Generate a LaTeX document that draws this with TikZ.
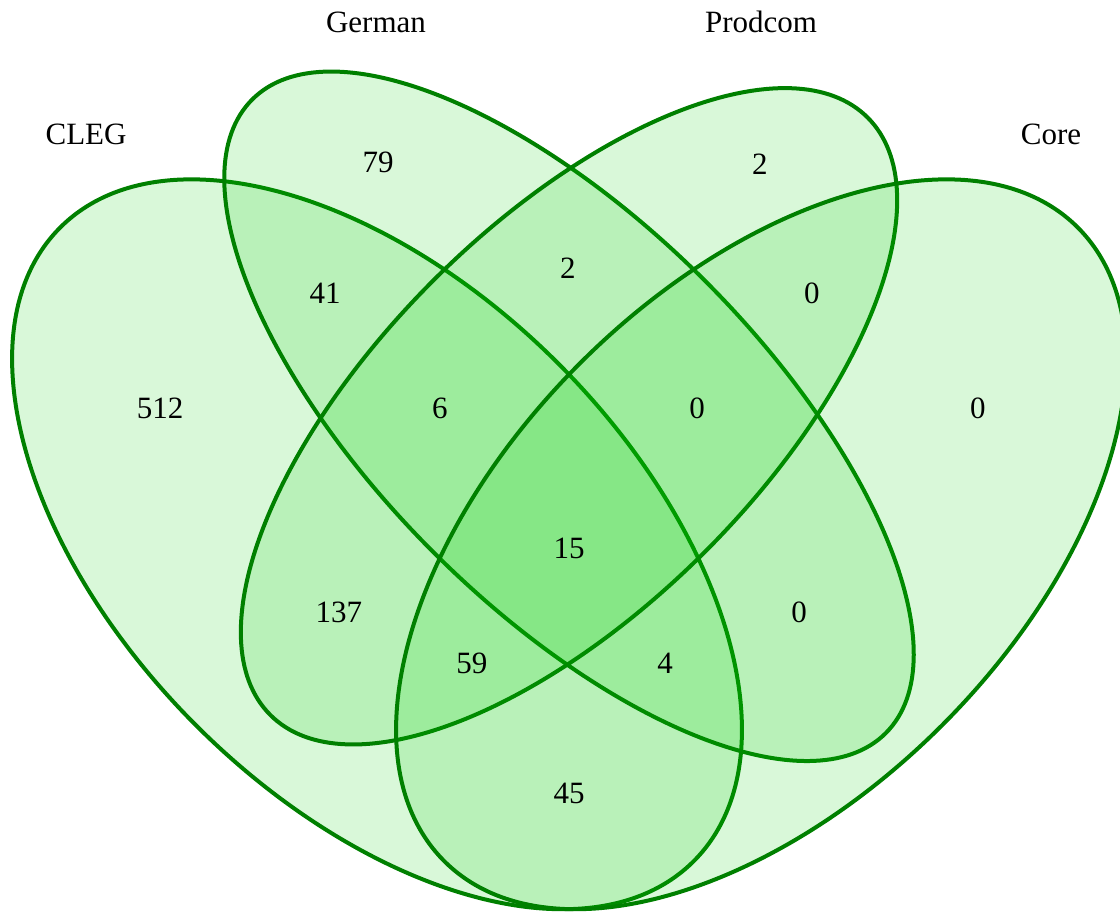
\documentclass[tikz,border=0pt]{standalone}
\usepackage{fontspec}
\setmainfont{Liberation Serif}
\usepackage{tikz}
\definecolor{vennFill}{RGB}{0,205,0}
\definecolor{vennLine}{RGB}{0,128,0}
\newcommand{\vennUnit}{640pt}
\newcommand{\vennFont}{\fontsize{15.5}{18}\selectfont}

\begin{document}
\begin{tikzpicture}[x=\vennUnit, y=\vennUnit,
		set/.style={draw=vennLine, line width=2pt, fill=vennFill, fill opacity=0.15},
		every node/.style={font=\vennFont}]
	\useasboundingbox (0.05547,0.18119) rectangle (0.93047,0.89525);
	%sets
	\draw[set, rotate around={135:(0.35,0.47)}] (0.35,0.47) ellipse [x radius=0.35, y radius=0.20];
	\draw[set, rotate around={135:(0.50,0.57)}] (0.50,0.57) ellipse [x radius=0.35, y radius=0.15];
	\draw[set, rotate around={45:(0.50,0.57)}] (0.50,0.57) ellipse [x radius=0.33, y radius=0.15];
	\draw[set, rotate around={45:(0.65,0.47)}] (0.65,0.47) ellipse [x radius=0.35, y radius=0.20];
	%names
	\node (cleg) at (0.1227,0.7906) {CLEG};
	\node (german) at (0.3492,0.8781) {German};
	\node (prodcom) at (0.650,0.8781) {Prodcom};
	\node (core) at (0.8766,0.7906) {Core};
	%counts
	\node (C) at (0.1805,0.5765) {512};
	\node (G) at (0.3508,0.7687) {79};
	\node (P) at (0.6492,0.7671) {2};
	\node (K) at (0.8195,0.5765) {0};
	\node (CG) at (0.3094,0.6663) {41};
	\node (GP) at (0.4992,0.6859) {2};
	\node (PK) at (0.6898,0.6663) {0};
	\node (CP) at (0.3203,0.4171) {137};
	\node (GK) at (0.6797,0.4171) {0};
	\node (CK) at (0.500,0.2757) {45};
	\node (CGP) at (0.3992,0.5765) {6};
	\node (GPK) at (0.600,0.5765) {0};
	\node (CPK) at (0.4242,0.3773) {59};
	\node (CGK) at (0.575,0.3773) {4};
	\node (CGPK) at (0.500,0.4671) {15};
\end{tikzpicture}
\end{document}
